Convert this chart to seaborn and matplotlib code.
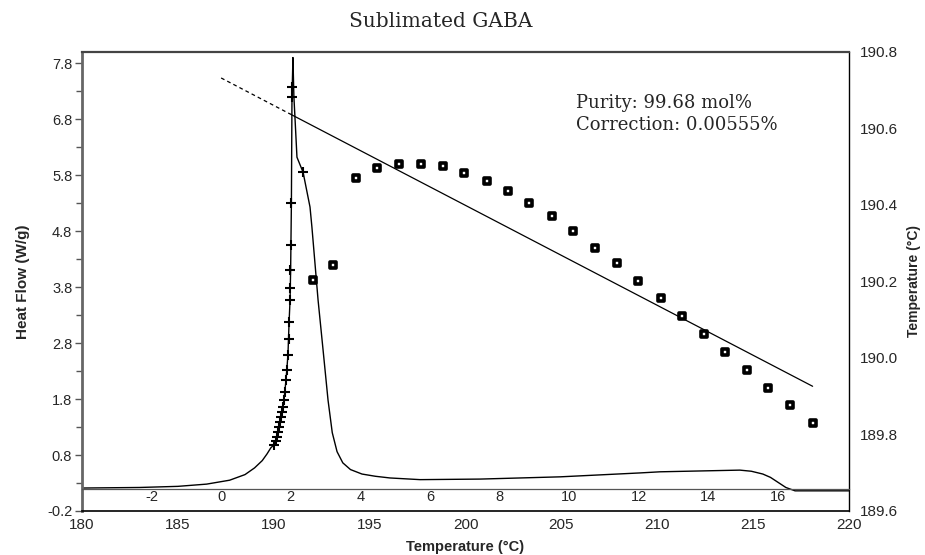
"""DSC purity plot for sublimated GABA: heat flow trace with Ts vs 1/F overlay."""

import matplotlib

matplotlib.use("Agg")

import matplotlib.pyplot as plt
import seaborn as sns

# heat flow trace (temperature degC, W/g)
DSC_TEMP = [180.0, 183.0, 185.0, 186.5, 187.7, 188.5, 189.0, 189.4, 189.65, 189.85,
            190.01, 190.12, 190.22, 190.33, 190.43, 190.53, 190.64, 190.74, 190.80,
            190.85, 190.88, 190.92, 190.95, 190.98, 191.0, 191.05, 191.1, 191.21,
            191.53, 191.89, 191.99, 192.31, 192.57, 192.83, 193.05, 193.3, 193.6,
            194.0, 194.6, 195.3, 196.06, 197.63, 200.76, 204.93, 209.1, 210.14,
            214.3, 214.9, 215.5, 215.9, 216.3, 216.7, 217.18, 220.0]
DSC_FLOW = [0.21, 0.22, 0.24, 0.28, 0.35, 0.45, 0.57, 0.70, 0.82, 0.93,
            0.98, 1.05, 1.21, 1.39, 1.57, 1.78, 2.14, 2.59, 3.18,
            3.57, 4.10, 5.30, 7.19, 7.60, 7.90, 7.20, 6.87, 6.12,
            5.85, 5.23, 4.87, 3.57, 2.68, 1.78, 1.20, 0.86, 0.66,
            0.54, 0.46, 0.42, 0.39, 0.36, 0.37, 0.41, 0.48, 0.50,
            0.53, 0.51, 0.46, 0.40, 0.31, 0.22, 0.16, 0.16]

# partial-area points picked on the leading edge
PICK_TEMP = [190.95, 190.95, 191.53, 190.90, 190.90, 190.85, 190.85, 190.85, 190.80,
             190.80, 190.74, 190.69, 190.64, 190.59, 190.53, 190.48, 190.43, 190.38,
             190.33, 190.27, 190.22, 190.17, 190.12, 190.01]
PICK_FLOW = [7.37, 7.19, 5.85, 5.30, 4.55, 4.10, 3.78, 3.57, 3.18,
             2.87, 2.59, 2.32, 2.14, 1.93, 1.78, 1.66, 1.57, 1.48,
             1.39, 1.30, 1.21, 1.12, 1.05, 0.98]

# sample temperature vs 1/F
INV_F = [2.64, 3.22, 3.88, 4.48, 5.11, 5.75, 6.38, 6.98, 7.64, 8.25, 8.85, 9.51,
         10.11, 10.75, 11.38, 11.98, 12.64, 13.25, 13.88, 14.48, 15.11, 15.72,
         16.34, 17.01]
TS = [190.205, 190.244, 190.471, 190.497, 190.508, 190.508, 190.503, 190.484,
      190.463, 190.437, 190.406, 190.372, 190.333, 190.288, 190.247, 190.200,
      190.156, 190.109, 190.062, 190.015, 189.968, 189.921, 189.876, 189.829]

# van't Hoff fit line
FIT_DASH_X = [0.0, 2.0]
FIT_DASH_Y = [190.732, 190.637]
FIT_SOLID_X = [2.0, 17.0]
FIT_SOLID_Y = [190.637, 189.926]

HF_TICKS = [-0.2, 0.8, 1.8, 2.8, 3.8, 4.8, 5.8, 6.8, 7.8]
HF_MINOR = [0.3, 1.3, 2.3, 3.3, 4.3, 5.3, 6.3, 7.3]
TS_TICKS = [189.6, 189.8, 190.0, 190.2, 190.4, 190.6, 190.8]
T_TICKS = [180, 185, 190, 195, 200, 205, 210, 215, 220]
INV_F_TICKS = [-2, 0, 2, 4, 6, 8, 10, 12, 14, 16]

sns.set_theme(style="white")
plt.rcParams["font.family"] = ["Liberation Sans", "DejaVu Sans"]
plt.rcParams["axes.unicode_minus"] = False

fig = plt.figure(figsize=(9.25, 5.55), dpi=100)
ax = fig.add_axes([0.0886, 0.0793, 0.8294, 0.8271])
ax_t = ax.twinx()
ax_f = ax_t.twiny()

# heat flow axis
sns.lineplot(x=DSC_TEMP, y=DSC_FLOW, sort=False, estimator=None, color="black",
             linewidth=1.0, ax=ax)
sns.scatterplot(x=PICK_TEMP, y=PICK_FLOW, marker="+", s=60, color="black",
                linewidth=1.5, ax=ax, zorder=4)
ax.set_xlim(180, 220)
ax.set_ylim(-0.2, 8.0)
ax.set_yticks(HF_TICKS)
ax.set_yticklabels([f"{v:.1f}" for v in HF_TICKS])
ax.set_yticks(HF_MINOR, minor=True)
ax.set_xticks(T_TICKS)
ax.tick_params(axis="y", which="both", direction="out", left=True, length=5,
               width=1.0, color="#555555", labelsize=10.5, pad=2)
ax.tick_params(axis="y", which="minor", length=4)
ax.tick_params(axis="x", bottom=False, length=0, labelsize=11, pad=5)
ax.set_xlabel("Temperature (°C)", fontsize=10.5, fontweight="bold", labelpad=6)
ax.set_ylabel("Heat Flow (W/g)", fontsize=11, fontweight="bold", labelpad=12)
for side, (lw, col) in {"left": (2.0, "#666666"), "top": (1.6, "#444444"),
                        "bottom": (1.2, "black"), "right": (1.0, "black")}.items():
    ax.spines[side].set_linewidth(lw)
    ax.spines[side].set_color(col)

# sample temperature axis (right)
ax_t.set_ylim(189.6, 190.8)
ax_t.set_yticks(TS_TICKS)
ax_t.set_yticklabels([f"{v:.1f}" for v in TS_TICKS])
ax_t.tick_params(axis="y", right=False, length=0, labelsize=11, pad=8)
ax_t.set_ylabel("Temperature (°C)", fontsize=10, fontweight="bold", labelpad=6)
for spine in ax_t.spines.values():
    spine.set_visible(False)

# 1/F axis drawn inside the plot
ax_f.set_xlim(-4.0, 18.05)
sns.lineplot(x=FIT_DASH_X, y=FIT_DASH_Y, color="black", linewidth=0.9,
             linestyle=(0, (3, 2.5)), ax=ax_f)
sns.lineplot(x=FIT_SOLID_X, y=FIT_SOLID_Y, color="black", linewidth=0.9, ax=ax_f)
sns.scatterplot(x=INV_F, y=TS, marker="s", s=25, facecolor="white",
                edgecolor="black", linewidth=2.6, ax=ax_f, zorder=5)
ax_f.xaxis.set_ticks_position("bottom")
ax_f.xaxis.set_label_position("bottom")
ax_f.spines["bottom"].set_position(("axes", 0.048))
ax_f.spines["bottom"].set_color("#555555")
ax_f.spines["bottom"].set_linewidth(0.9)
for side in ["top", "left", "right"]:
    ax_f.spines[side].set_visible(False)
ax_f.set_xticks(INV_F_TICKS)
ax_f.tick_params(axis="x", bottom=False, top=False, length=0, labelsize=10.5, pad=1)

fig.text(0.476, 0.962, "Sublimated GABA", ha="center", va="center",
         fontsize=14.5, family="DejaVu Serif")
ax_f.text(0.644, 0.864, "Purity: 99.68 mol%\nCorrection: 0.00555%",
          transform=ax_f.transAxes, ha="left", va="center", fontsize=13,
          family="DejaVu Serif", linespacing=1.3)

fig.savefig("out.png", dpi=100)
